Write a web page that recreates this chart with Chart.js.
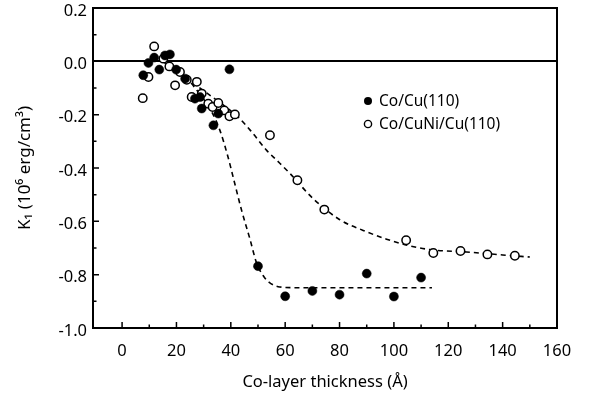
<!DOCTYPE html>
<html>
<head>
<meta charset="utf-8">
<script src="https://cdn.jsdelivr.net/npm/chart.js@4/dist/chart.umd.min.js"></script>
<style>
  html, body { margin: 0; padding: 0; background: #fff; }
  #wrap { width: 592px; height: 403px; position: relative; }
</style>
</head>
<body>
<div id="wrap"><canvas id="c" width="592" height="403"></canvas></div>
<script>
// ---- Data ----
const seriesNames = ['Co/Cu(110)', 'Co/CuNi/Cu(110)'];

// Co/Cu(110) : filled circles
const cuX = [7.8, 9.7, 11.8, 13.7, 15.8, 17.6, 19.9, 23.2, 26.8, 28.7, 29.3, 33.6, 35.4, 39.5, 50, 60, 70, 80, 90, 100, 110];
const cuY = [-0.052, -0.006, 0.014, -0.031, 0.022, 0.026, -0.031, -0.065, -0.140, -0.134, -0.177, -0.240, -0.196, -0.030, -0.768, -0.881, -0.861, -0.875, -0.796, -0.882, -0.811];

// Co/CuNi/Cu(110) : open circles
const niX = [7.6, 9.7, 11.8, 15.2, 17.4, 19.5, 21.3, 23.8, 25.6, 27.5, 29.3, 31.7, 33.3, 35.4, 37.6, 39.5, 41.5, 54.4, 64.5, 74.4, 104.5, 114.5, 124.5, 134.4, 144.5];
const niY = [-0.138, -0.059, 0.056, 0.010, -0.019, -0.090, -0.040, -0.069, -0.134, -0.077, -0.121, -0.159, -0.171, -0.156, -0.184, -0.206, -0.199, -0.277, -0.446, -0.556, -0.671, -0.719, -0.711, -0.724, -0.729];

// dashed guide curves
const cuFitX = [15, 22, 28, 33, 36, 39, 41, 44, 47, 49.5, 52, 54, 58, 65, 80, 100, 114];
const cuFitY = [0.0, -0.045, -0.115, -0.19, -0.259, -0.36, -0.44, -0.56, -0.665, -0.757, -0.805, -0.828, -0.846, -0.849, -0.849, -0.849, -0.849];
const niFitX = [15, 22, 30, 38, 42.8, 47.7, 53.2, 56.9, 61.8, 70.3, 80.1, 88.7, 97.3, 105, 113.2, 126.7, 140, 150];
const niFitY = [0.0, -0.05, -0.11, -0.17, -0.21, -0.265, -0.334, -0.371, -0.421, -0.515, -0.594, -0.634, -0.667, -0.69, -0.706, -0.715, -0.726, -0.734];

const xTicks = [0, 20, 40, 60, 80, 100, 120, 140, 160];
const xMinor = [10, 30, 50, 70, 90, 110, 130, 150];
const yTicks = [-1.0, -0.8, -0.6, -0.4, -0.2, 0.0, 0.2];
const yMinor = [-0.9, -0.7, -0.5, -0.3, -0.1, 0.1];
const xRange = [-10.7, 160];
const yRange = [-1.0, 0.2];

const FONT = '"Noto Sans", "Open Sans", sans-serif';

const toPts = (xs, ys) => xs.map((x, i) => ({ x: x, y: ys[i] }));

// frame + inward ticks
const framePlugin = {
  id: 'frame',
  afterDraw(chart) {
    const { ctx, chartArea: a, scales } = chart;
    ctx.save();
    ctx.strokeStyle = '#000';
    ctx.lineWidth = 2;
    ctx.strokeRect(a.left, a.top, a.right - a.left, a.bottom - a.top);
    ctx.lineWidth = 1.5;
    ctx.beginPath();
    xTicks.forEach(v => { const p = scales.x.getPixelForValue(v); if (p > a.left + 2 && p < a.right - 2) { ctx.moveTo(p, a.bottom); ctx.lineTo(p, a.bottom - 6); } });
    xMinor.forEach(v => { const p = scales.x.getPixelForValue(v); ctx.moveTo(p, a.bottom); ctx.lineTo(p, a.bottom - 3.5); });
    yTicks.forEach(v => { const p = scales.y.getPixelForValue(v); if (p > a.top + 2 && p < a.bottom - 2) { ctx.moveTo(a.left, p); ctx.lineTo(a.left + 6, p); } });
    yMinor.forEach(v => { const p = scales.y.getPixelForValue(v); ctx.moveTo(a.left, p); ctx.lineTo(a.left + 3.5, p); });
    ctx.stroke();
    ctx.restore();
  }
};

// in-plot legend
const legendPlugin = {
  id: 'innerLegend',
  afterDraw(chart) {
    const { ctx } = chart;
    ctx.save();
    ctx.font = '15.5px ' + FONT;
    ctx.textBaseline = 'middle';
    ctx.fillStyle = '#000';
    const rows = [{ y: 101, filled: true }, { y: 124, filled: false }];
    rows.forEach((r, i) => {
      ctx.beginPath();
      ctx.arc(368, r.y, r.filled ? 4 : 3.6, 0, Math.PI * 2);
      if (r.filled) { ctx.fillStyle = '#000'; ctx.fill(); }
      else { ctx.fillStyle = '#fff'; ctx.fill(); ctx.lineWidth = 1.4; ctx.strokeStyle = '#000'; ctx.stroke(); }
      ctx.fillStyle = '#000';
      ctx.fillText(seriesNames[i], 379, r.y + 1);
    });
    ctx.restore();
  }
};

new Chart(document.getElementById('c'), {
  type: 'scatter',
  data: {
    datasets: [
      { type: 'line', label: 'fitCu', data: toPts(cuFitX, cuFitY), borderColor: '#000', borderWidth: 1.6, borderDash: [5, 4], pointRadius: 0, cubicInterpolationMode: 'monotone', fill: false, order: 3 },
      { type: 'line', label: 'fitNi', data: toPts(niFitX, niFitY), borderColor: '#000', borderWidth: 1.6, borderDash: [5, 4], pointRadius: 0, cubicInterpolationMode: 'monotone', fill: false, order: 3 },
      { label: seriesNames[1], data: toPts(niX, niY), pointRadius: 4.2, pointBackgroundColor: '#fff', pointBorderColor: '#000', pointBorderWidth: 1.5, order: 2 },
      { label: seriesNames[0], data: toPts(cuX, cuY), pointRadius: 4.5, pointBackgroundColor: '#000', pointBorderColor: '#000', pointBorderWidth: 0.5, order: 1 }
    ]
  },
  options: {
    responsive: false,
    animation: false,
    devicePixelRatio: 1,
    layout: { padding: { top: 8, right: 35, left: 0, bottom: 0 } },
    plugins: { legend: { display: false }, tooltip: { enabled: false } },
    scales: {
      x: {
        type: 'linear',
        min: xRange[0], max: xRange[1],
        afterBuildTicks: s => { s.ticks = xTicks.map(v => ({ value: v })); },
        afterFit: s => { s.height = 75; s.paddingLeft = 0; s.paddingRight = 0; },
        grid: { display: false, drawTicks: false },
        border: { display: false },
        ticks: { color: '#000', font: { family: FONT, size: 16.5 }, padding: 13, maxRotation: 0, callback: v => String(v) },
        title: { display: true, text: 'Co-layer thickness (Å)', color: '#000', font: { family: FONT, size: 16.5 }, padding: { top: 0, bottom: 11 } }
      },
      y: {
        type: 'linear',
        min: yRange[0], max: yRange[1],
        afterBuildTicks: s => { s.ticks = yTicks.map(v => ({ value: v })); },
        afterFit: s => { s.width = 93; s.paddingTop = 0; s.paddingBottom = 0; },
        grid: { drawTicks: false, color: c => (c.tick && Math.abs(c.tick.value) < 1e-9) ? '#000' : 'rgba(0,0,0,0)', lineWidth: 2 },
        border: { display: false },
        ticks: { color: '#000', font: { family: FONT, size: 16.5 }, padding: 6, labelOffset: 3, callback: v => Number(v).toFixed(1) },
        title: { display: true, text: 'K₁ (10⁶ erg/cm³)', color: '#000', font: { family: FONT, size: 17 }, padding: { top: 15, bottom: 0 } }
      }
    }
  },
  plugins: [framePlugin, legendPlugin]
});
</script>
</body>
</html>
